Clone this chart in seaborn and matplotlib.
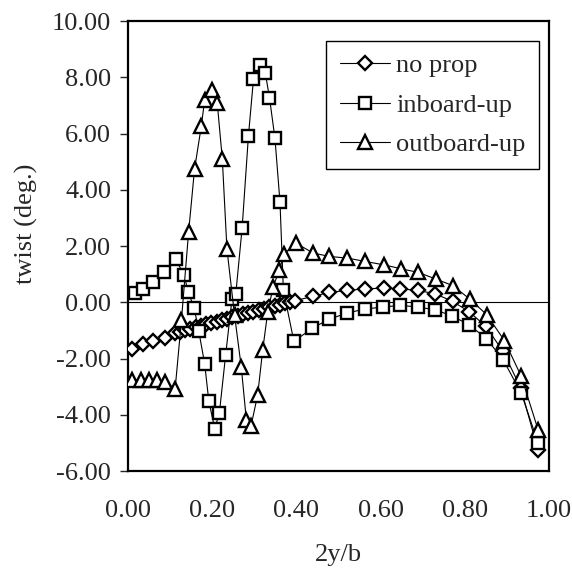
import matplotlib
matplotlib.use("Agg")
import matplotlib.pyplot as plt
import seaborn as sns
import pandas as pd

# ---------------- data ----------------
noprop_x = [0.009, 0.036, 0.060, 0.087, 0.111,
            0.123, 0.136, 0.148, 0.161, 0.173, 0.186, 0.198, 0.211, 0.223, 0.236,
            0.248, 0.261, 0.273, 0.286, 0.298, 0.311, 0.323, 0.336, 0.348, 0.361,
            0.373, 0.384, 0.397,
            0.440, 0.478, 0.521, 0.563, 0.608, 0.647, 0.689, 0.730, 0.771, 0.810,
            0.850, 0.891, 0.933, 0.974]
noprop_y = [-1.65, -1.47, -1.36, -1.27, -1.09,
            -1.04, -0.99, -0.94, -0.89, -0.84, -0.79, -0.74, -0.69, -0.63, -0.58,
            -0.53, -0.48, -0.43, -0.38, -0.33, -0.28, -0.23, -0.18, -0.13, -0.08,
            -0.04, 0.00, 0.06,
            0.21, 0.35, 0.42, 0.48, 0.50, 0.48, 0.42, 0.30, 0.03, -0.33,
            -0.86, -1.75, -3.05, -5.26]

inboard_x = [0.016, 0.036, 0.060, 0.085, 0.113, 0.133, 0.143, 0.157, 0.168, 0.182,
             0.192, 0.206, 0.217, 0.232, 0.247, 0.256, 0.271, 0.286, 0.298, 0.314,
             0.326, 0.336, 0.349, 0.361, 0.369, 0.394, 0.438, 0.478, 0.521, 0.563,
             0.605, 0.647, 0.689, 0.730, 0.769, 0.810, 0.851, 0.891, 0.934, 0.974]
inboard_y = [0.33, 0.47, 0.72, 1.06, 1.53, 0.98, 0.36, -0.19, -1.02, -2.18,
             -3.52, -4.49, -3.94, -1.86, 0.12, 0.30, 2.63, 5.91, 7.93, 8.44,
             8.16, 7.28, 5.83, 3.56, 0.44, -1.39, -0.92, -0.60, -0.38, -0.24,
             -0.17, -0.11, -0.17, -0.27, -0.48, -0.80, -1.29, -2.04, -3.23, -5.00]

outboard_x = [0.010, 0.030, 0.050, 0.070, 0.089, 0.112, 0.127, 0.144, 0.158, 0.174,
              0.182, 0.199, 0.212, 0.224, 0.235, 0.253, 0.269, 0.281, 0.292, 0.308,
              0.320, 0.332, 0.345, 0.359, 0.371, 0.399, 0.440, 0.478, 0.521, 0.564,
              0.608, 0.649, 0.690, 0.732, 0.772, 0.812, 0.852, 0.894, 0.934, 0.974]
outboard_y = [-2.75, -2.75, -2.76, -2.78, -2.84, -3.07, -0.62, 2.51, 4.73, 6.25,
              7.19, 7.55, 7.08, 5.09, 1.89, -0.45, -2.30, -4.17, -4.41, -3.29,
              -1.69, -0.33, 0.56, 1.13, 1.72, 2.10, 1.75, 1.63, 1.57, 1.45,
              1.33, 1.19, 1.06, 0.82, 0.59, 0.11, -0.44, -1.36, -2.63, -4.53]

series_names = ["no prop", "inboard-up", "outboard-up"]
y_ticks = [-6, -4, -2, 0, 2, 4, 6, 8, 10]
x_ticks = [0.0, 0.2, 0.4, 0.6, 0.8, 1.0]

# ---------------- style ----------------
sns.set_style("ticks")
plt.rcParams["font.family"] = ["Liberation Serif", "DejaVu Serif"]
plt.rcParams["font.size"] = 19

fig = plt.figure(figsize=(5.72, 5.74), dpi=100)
ax = fig.add_axes([0.2238, 0.1794, 0.736, 0.784])

ax.axhline(0, color="black", lw=0.8, zorder=1)

specs = [
    (noprop_x, noprop_y, "D", 6.8),
    (inboard_x, inboard_y, "s", 9.0),
    (outboard_x, outboard_y, "^", 9.5),
]
for (xs, ys, mk, ms), name in zip(specs, series_names):
    df = pd.DataFrame({"x": xs, "y": ys})
    sns.lineplot(data=df, x="x", y="y", ax=ax, sort=False, estimator=None,
                 color="black", lw=0.8, marker=mk, markersize=ms,
                 markerfacecolor="white", markeredgecolor="black",
                 markeredgewidth=1.7, label=name, zorder=3)

ax.set_xlim(0, 1)
ax.set_ylim(-6, 10)
ax.set_xticks(x_ticks)
ax.set_xticklabels([f"{v:.2f}" for v in x_ticks])
ax.set_yticks(y_ticks)
ax.set_yticklabels([f"{v:.2f}" for v in y_ticks])
ax.tick_params(axis="x", length=0, pad=21, labelsize=19)
ax.tick_params(axis="y", length=6, width=1.0, direction="out", pad=6, labelsize=19)

for s in ax.spines.values():
    s.set_visible(True)
    s.set_linewidth(1.6)
    s.set_color("black")

ax.set_xlabel("2y/b", fontsize=19, labelpad=16)
ax.set_ylabel("twist (deg.)", fontsize=19)
ax.yaxis.set_label_coords(-0.215, 0.55)

leg = ax.legend(loc="upper right", bbox_to_anchor=(0.976, 0.956), frameon=True,
                fancybox=False, shadow=False, edgecolor="black", framealpha=1,
                fontsize=19, numpoints=1, handlelength=1.9, handletextpad=0.25,
                labelspacing=0.6, borderpad=0.5, borderaxespad=0)
leg.get_frame().set_linewidth(1.0)

fig.savefig("out.png", dpi=100)
